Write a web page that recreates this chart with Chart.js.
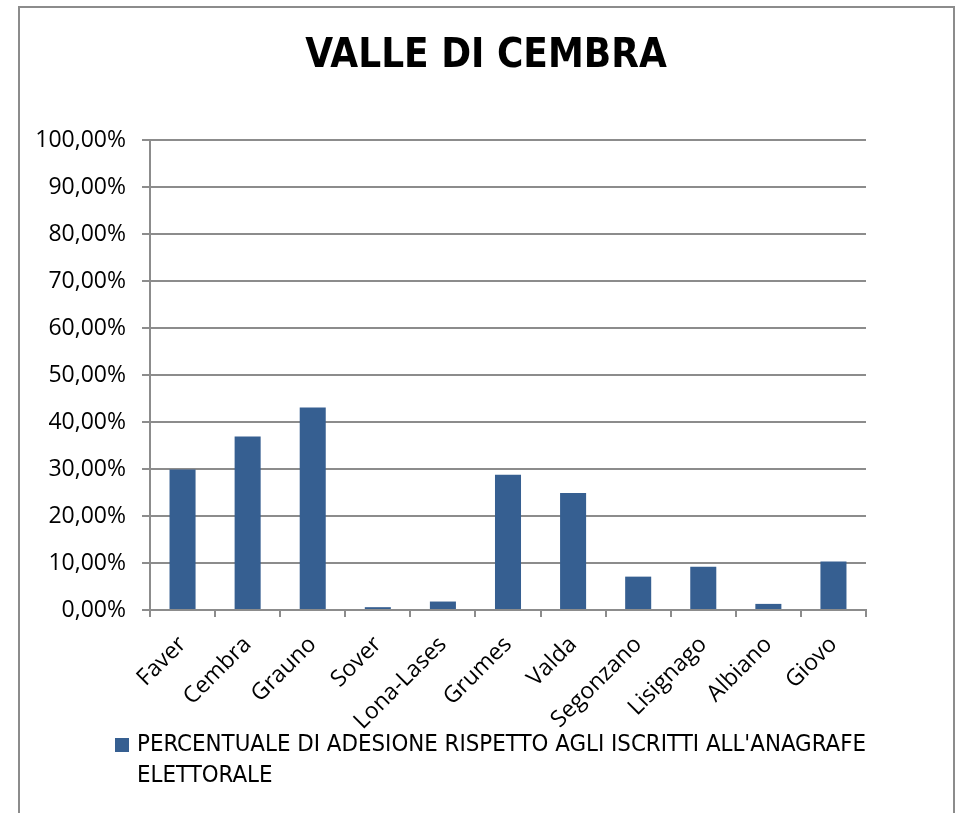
<!DOCTYPE html>
<html>
<head>
<meta charset="utf-8">
<script src="https://cdn.jsdelivr.net/npm/chart.js@4/dist/chart.umd.min.js"></script>
<style>
	body { margin: 0; background: #fff; }
	#wrap { position: relative; width: 957px; height: 813px; overflow: hidden; }
	#frame { position: absolute; left: 18px; top: 6px; width: 933px; height: 900px; border: 2px solid #8c8c8c; pointer-events: none; }
	#legend { position: absolute; left: 115px; top: 728px; font-family: 'DejaVu Sans Condensed', sans-serif; font-size: 23.8px; line-height: 31px; color: #000; white-space: nowrap; }
	#legend .box { position: absolute; left: 0; top: 10px; width: 14px; height: 14px; background: #365f91; }
	#legend .text { margin-left: 22px; }
</style>
</head>
<body>
<div id="wrap">
	<canvas id="chart" width="957" height="813"></canvas>
	<div id="frame"></div>
	<div id="legend"><span class="box"></span><div class="text" id="legendText"></div></div>
</div>
<script>
const title = 'VALLE DI CEMBRA';
const seriesName = ["PERCENTUALE DI ADESIONE RISPETTO AGLI ISCRITTI ALL'ANAGRAFE", 'ELETTORALE'];
const comuni = ['Faver', 'Cembra', 'Grauno', 'Sover', 'Lona-Lases', 'Grumes', 'Valda', 'Segonzano', 'Lisignago', 'Albiano', 'Giovo'];
const adesione = [29.9, 36.9, 43.1, 0.6, 1.8, 28.8, 24.9, 7.1, 9.2, 1.3, 10.3];

const barColor = '#365f91';
const gridColor = '#8c8c8c';
const tickFont = "'Open Sans', sans-serif";

document.getElementById('legendText').innerHTML = seriesName.join('<br>');

const draw = () => {
	new Chart(document.getElementById('chart'), {
		type: 'bar',
		data: {
			labels: comuni,
			datasets: [
				{
					label: seriesName.join(' '),
					data: adesione,
					backgroundColor: barColor,
					barPercentage: 0.4,
					categoryPercentage: 1
				}
			]
		},
		options: {
			responsive: false,
			animation: false,
			layout: {
				padding: { left: 15, right: 0, top: 0, bottom: 0 }
			},
			plugins: {
				legend: { display: false },
				tooltip: { enabled: false },
				title: {
					display: true,
					text: title,
					color: '#000',
					font: { family: "'DejaVu Sans Condensed', sans-serif", size: 40, weight: 'bold', lineHeight: 1.2 },
					padding: { top: 33, bottom: 59 }
				}
			},
			scales: {
				x: {
					afterFit: (scale) => { scale.height = 203; },
					grid: { offset: true, drawOnChartArea: false, color: gridColor, lineWidth: 2, tickLength: 7 },
					border: { color: gridColor, width: 2 },
					ticks: {
						color: '#000',
						font: { family: tickFont, size: 23 },
						maxRotation: 45,
						minRotation: 45,
						padding: 14
					}
				},
				y: {
					min: 0,
					max: 100,
					afterFit: (scale) => { scale.width = 135; },
					grid: { color: gridColor, lineWidth: 2, tickLength: 8 },
					border: { color: gridColor, width: 2 },
					ticks: {
						stepSize: 10,
						color: '#000',
						padding: 16,
						font: { family: tickFont, size: 23 },
						callback: (v) => v.toFixed(2).replace('.', ',') + '%'
					}
				},
				spacer: {
					type: 'linear',
					position: 'right',
					afterFit: (scale) => { scale.width = 91; },
					grid: { display: false },
					border: { display: false },
					ticks: { display: false }
				}
			}
		}
	});
};

(async () => {
	try {
		await Promise.all([
			document.fonts.load("23px 'Open Sans'"),
			document.fonts.load("bold 40px 'DejaVu Sans Condensed'")
		]);
	}
	catch (err) {}
	draw();
})();
</script>
</body>
</html>
